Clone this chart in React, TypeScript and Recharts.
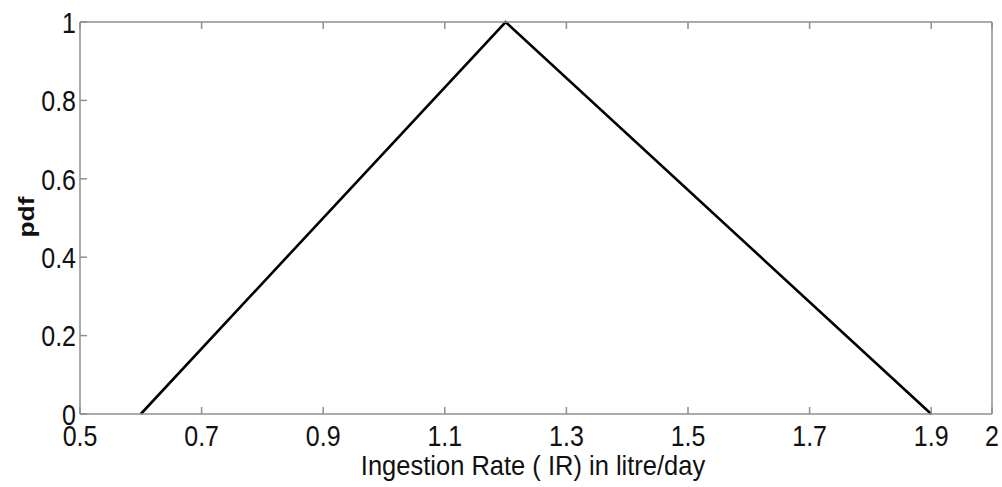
import React from 'react';
import { LineChart, Line, XAxis, YAxis } from 'recharts';

const xValues = [0.6, 1.2, 1.9];
const pdfValues = [0, 1, 0];
const xTicks = [0.5, 0.7, 0.9, 1.1, 1.3, 1.5, 1.7, 1.9, 2];
const xTickLabels = ['0.5', '0.7', '0.9', '1.1', '1.3', '1.5', '1.7', '1.9', '2'];
const yTicks = [0, 0.2, 0.4, 0.6, 0.8, 1];
const yTickLabels = ['0', '0.2', '0.4', '0.6', '0.8', '1'];
const xTitle = 'Ingestion Rate ( IR) in litre/day';
const yTitle = 'pdf';

const data = xValues.map((x, i) => ({ x, pdf: pdfValues[i] }));

const FONT = '"Liberation Sans", Arial, Helvetica, sans-serif';
const AXIS = '#8f8f8f';
const SY = 1.2;

const BottomTick = (props: any) => {
  const { x, payload } = props;
  const i = xTicks.indexOf(payload.value);
  const label = i >= 0 ? xTickLabels[i] : String(payload.value);
  return (
    <text
      transform={`translate(${x},446) scale(1,${SY})`}
      textAnchor="middle"
      fontSize={25}
      fontFamily={FONT}
      fill="#111"
    >
      {label}
    </text>
  );
};

const LeftTick = (props: any) => {
  const { y, payload } = props;
  const i = yTicks.indexOf(payload.value);
  const label = i >= 0 ? yTickLabels[i] : String(payload.value);
  return (
    <text
      transform={`translate(76,${y}) scale(1,${SY})`}
      textAnchor="end"
      dy="0.36em"
      fontSize={25}
      fontFamily={FONT}
      fill="#111"
    >
      {label}
    </text>
  );
};

const Empty = () => <g />;

export default function App() {
  return (
    <div style={{ position: 'absolute', left: 0, top: 0, width: 1002, height: 487, background: '#fff' }}>
      <LineChart width={1002} height={487} data={data} margin={{ top: 21, right: 9, left: 0, bottom: 0 }}>
        <XAxis
          dataKey="x"
          type="number"
          domain={[0.5, 2]}
          ticks={xTicks}
          height={73}
          stroke={AXIS}
          strokeWidth={1.5}
          tickSize={-7}
          tick={BottomTick}
          interval={0}
          label={{
            content: () => (
              <text
                transform={`translate(533,475) scale(1,1.1)`}
                textAnchor="middle"
                fontSize={25.5}
                fontFamily={FONT}
                fill="#111"
              >
                {xTitle}
              </text>
            ),
          }}
        />
        <XAxis
          xAxisId="top"
          dataKey="x"
          type="number"
          orientation="top"
          domain={[0.5, 2]}
          ticks={xTicks}
          height={1}
          stroke={AXIS}
          strokeWidth={1.5}
          tickSize={-7}
          tick={Empty}
          interval={0}
        />
        <YAxis
          type="number"
          domain={[0, 1]}
          ticks={yTicks}
          width={80}
          stroke={AXIS}
          strokeWidth={1.5}
          tickSize={-7}
          tick={LeftTick}
          interval={0}
          label={{
            content: () => (
              <text
                transform={`translate(34,217) scale(1,${SY}) rotate(-90)`}
                textAnchor="middle"
                fontSize={22}
                fontWeight="bold"
                fontFamily={FONT}
                fill="#111"
              >
                {yTitle}
              </text>
            ),
          }}
        />
        <YAxis
          yAxisId="right"
          type="number"
          orientation="right"
          domain={[0, 1]}
          ticks={yTicks}
          width={1}
          stroke={AXIS}
          strokeWidth={1.5}
          tickSize={-7}
          tick={Empty}
          interval={0}
        />
        <Line
          type="linear"
          dataKey="pdf"
          stroke="#000"
          strokeWidth={2.6}
          dot={false}
          isAnimationActive={false}
        />
      </LineChart>
    </div>
  );
}
